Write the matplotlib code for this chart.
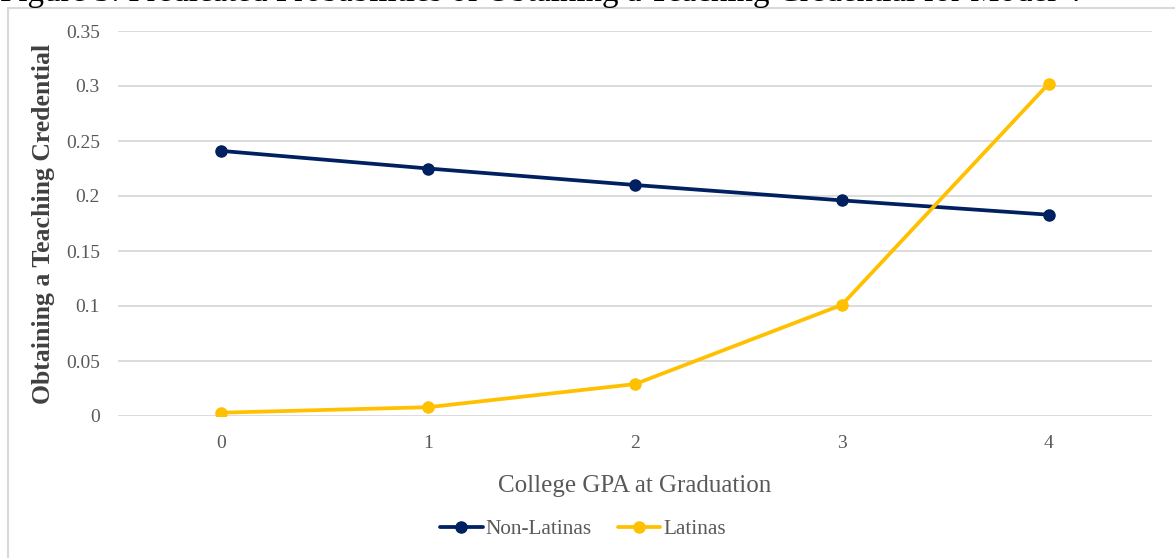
import matplotlib
matplotlib.use("Agg")
import matplotlib.pyplot as plt
from matplotlib.patches import Rectangle

gpa = [0, 1, 2, 3, 4]
gpa_labels = ["0", "1", "2", "3", "4"]
non_latinas = [0.241, 0.225, 0.210, 0.196, 0.183]
latinas = [0.003, 0.008, 0.029, 0.101, 0.302]
yticks = [0, 0.05, 0.1, 0.15, 0.2, 0.25, 0.3, 0.35]
ytick_labels = ["0", "0.05", "0.1", "0.15", "0.2", "0.25", "0.3", "0.35"]

W, H = 1175, 558
fig = plt.figure(figsize=(W / 100, H / 100), dpi=100)
plt.rcParams['font.family'] = ['Liberation Serif', 'DejaVu Serif']

# chart border
fig.patches.append(Rectangle((8 / W, -0.1), 1.2, 1 - 8 / H + 0.1, transform=fig.transFigure,
                             fill=False, edgecolor='#d9d9d9', linewidth=1.5, zorder=0))

# cut-off title
fig.text(0 / W, 1 - 1.5 / H, "Figure 3: Predicated Probabilities of Obtaining a Teaching Credential for Model 4",
         ha='left', va='baseline', fontsize=23.8, color='black')

ax = fig.add_axes([118 / W, 1 - 416 / H, (1152 - 118) / W, (416 - 31) / H])
ax.plot(gpa, non_latinas, color='#002060', linewidth=2.7, marker='o', markersize=8,
        label='Non-Latinas', solid_capstyle='round')
ax.plot(gpa, latinas, color='#FFC000', linewidth=2.7, marker='o', markersize=8,
        label='Latinas', solid_capstyle='round')

ax.set_xlim(-0.5, 4.5)
ax.set_ylim(0, 0.35)
ax.set_xticks(gpa)
ax.set_xticklabels(gpa_labels)
ax.set_yticks(yticks)
ax.set_yticklabels(ytick_labels)
ax.grid(axis='y', color='#d9d9d9', linewidth=1.3)
ax.set_axisbelow(True)
for s in ax.spines.values():
    s.set_visible(False)
ax.tick_params(axis='both', length=0, labelsize=14, colors='#595959')
ax.tick_params(axis='y', pad=13)
ax.tick_params(axis='x', pad=14)

ax.set_xlabel("College GPA at Graduation", fontsize=18, color='#595959', labelpad=16)
ax.set_ylabel("Obtaining a Teaching Credential", fontsize=18.5, fontweight='bold',
              color='#404040', labelpad=8)

leg = fig.legend(loc='center', bbox_to_anchor=(583 / W, 1 - 529 / H), ncol=2, frameon=False,
                 fontsize=15.3, handlelength=2.0, columnspacing=1.2, handletextpad=0.15,
                 labelcolor='#595959')

fig.savefig("out.png", dpi=100, facecolor='white')
